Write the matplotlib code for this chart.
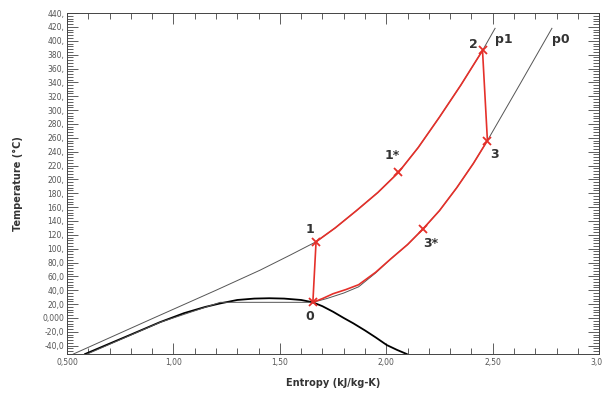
import matplotlib as mpl
mpl.use("Agg")
import matplotlib.pyplot as plt
from matplotlib.ticker import MultipleLocator

# saturation dome
dome_s = [0.585, 0.70, 0.80, 0.937, 1.05, 1.15, 1.219, 1.30, 1.38, 1.45, 1.52, 1.60, 1.655,
          1.70, 1.75, 1.80, 1.845, 1.90, 1.95, 2.002, 2.05, 2.096]
dome_T = [-52, -37, -24, -6, 7, 16, 21, 26, 28, 28.5, 28, 26, 22.6,
          17, 9, 0, -7.7, -18, -28, -39, -46, -52]

# p0 isobar (low pressure)
p0_s = [0.595, 0.94, 1.22, 1.655, 1.72, 1.80, 1.87, 1.95, 2.02, 2.10, 2.171, 2.25, 2.331,
        2.409, 2.475, 2.629, 2.778]
p0_T = [-52, -6, 22.6, 22.6, 28, 36, 45, 65, 85, 106, 128, 155, 188,
        223, 256, 338, 418]

# p1 isobar (high pressure)
p1_s = [0.53, 0.90, 1.20, 1.407, 1.55, 1.67, 1.76, 1.86, 1.96, 2.057, 2.15, 2.25, 2.35, 2.452, 2.511]
p1_T = [-52, -1, 40, 69, 91, 110, 130, 155, 181, 210, 246, 290, 336, 386, 418]

# cycle (red): 0 -> 1 -> 1* -> 2 -> 3 -> 3* -> 0
cyc_s = [1.655, 1.67, 1.76, 1.86, 1.96, 2.057, 2.15, 2.25, 2.35, 2.452,
         2.475, 2.409, 2.331, 2.25, 2.171, 2.10, 2.02, 1.95, 1.87, 1.81, 1.75, 1.70, 1.655]
cyc_T = [22.6, 110, 130, 155, 181, 210, 246, 290, 336, 386,
         256, 223, 188, 155, 128, 106, 85, 66, 48, 41, 35, 28, 22.6]

# marked state points
pt_s = [1.655, 1.67, 2.057, 2.452, 2.475, 2.171]
pt_T = [22.6, 110, 210, 386, 256, 128]

labels = ["0", "1", "1*", "2", "3", "3*", "p1", "p0"]
label_s = [1.639, 1.639, 2.026, 2.408, 2.506, 2.21, 2.55, 2.82]
label_T = [2, 127, 235, 395, 236, 108, 402, 402]

xticks = [0.5, 1.0, 1.5, 2.0, 2.5, 3.0]
xticklabels = ["0,500", "1,00", "1,50", "2,00", "2,50", "3,00"]
yticks = list(range(-40, 441, 20))
yticklabels = ["-40,0", "-20,0", "0,000", "20,0", "40,0", "60,0", "80,0"] + \
    ["%d," % v for v in range(100, 441, 20)]

fig = plt.figure(figsize=(6.02, 3.96), dpi=100)
ax = fig.add_axes([0.1113, 0.106, 0.884, 0.861])

ax.plot(dome_s, dome_T, color="black", lw=1.3)
ax.plot(p0_s, p0_T, color="#555555", lw=0.7)
ax.plot(p1_s, p1_T, color="#555555", lw=0.7)
ax.plot(cyc_s, cyc_T, color="#e5302a", lw=1.2)
ax.plot(pt_s, pt_T, linestyle="none", marker="x", color="#e5302a", ms=6, mew=1.3)

for t, s, T in zip(labels, label_s, label_T):
    ax.text(s, T, t, fontsize=9, fontweight="bold", color="#333333", ha="center", va="center")

ax.set_xlim(0.5, 3.0)
ax.set_ylim(-52, 440)
ax.set_xticks(xticks)
ax.set_xticklabels(xticklabels)
ax.set_yticks(yticks)
ax.set_yticklabels(yticklabels)
ax.xaxis.set_minor_locator(MultipleLocator(0.1))
ax.yaxis.set_minor_locator(MultipleLocator(4))

ax.tick_params(which="both", direction="in", top=True, right=True,
               labelsize=5.5, labelcolor="#555555", color="#444444", width=0.6)
ax.tick_params(which="major", length=8)
ax.tick_params(which="minor", length=4)
ax.tick_params(axis="x", pad=3)
ax.tick_params(axis="y", pad=2)
for sp in ax.spines.values():
    sp.set_linewidth(0.7)
    sp.set_color("#444444")

ax.set_xlabel("Entropy (kJ/kg-K)", fontsize=7, fontweight="bold", color="#333333", labelpad=8)
ax.set_ylabel("Temperature (°C)", fontsize=7, fontweight="bold", color="#333333", labelpad=14)

plt.savefig("out.png", dpi=100)
